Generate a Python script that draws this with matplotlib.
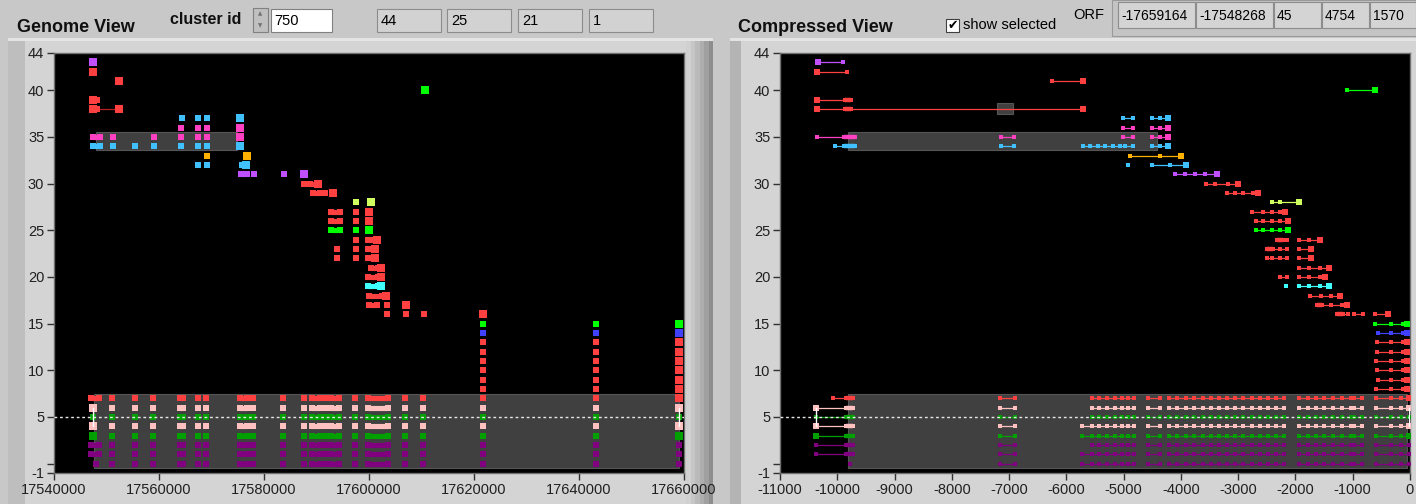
import matplotlib.pyplot as plt
from matplotlib.patches import Rectangle

plt.rcParams['axes.unicode_minus'] = False
FONT = ['Liberation Sans Narrow', 'Liberation Sans', 'DejaVu Sans']

W, H = 1416, 504

red = '#ff4040'
pink = '#ff40c0'
blue = '#40c0ff'
violet = '#c050ff'
orange = '#ffb000'
lime = '#d0ff60'
green = '#00ff00'
cyan = '#40ffff'
blue2 = '#4040ff'
lpink = '#ffc0c0'
dgreen = '#00a000'
purple = '#800080'

# ---------------- data ----------------
# transcript rows above the grey band (row index = y value)
top_rows = [43, 42, 41, 40, 39, 38, 37, 36, 35, 34, 33, 32, 31, 30, 29, 28, 27, 26,
            25, 24, 23, 22, 21, 20, 19, 18, 17, 16, 15, 14, 13, 12, 11, 10, 9, 8]
top_colors = [violet, red, red, green, red, red, blue, pink, pink, blue, orange, blue,
              violet, red, red, lime, red, red, green, red, red, red, red, red, cyan,
              red, red, red, green, blue2, red, red, red, red, red, red]

# genome view: exons (single position or (start, end)) and end exons
genome_exons = [
    [], [], [], [],
    [(17547370, 17548140)],
    [(17547370, 17548140)],
    [17564440, 17567490, 17569090],
    [17564190, 17567490, 17569090],
    [(17547370, 17548760), 17551300, 17559100, 17564190, 17567490, 17569090],
    [(17547370, 17548760), 17551300, 17555430, 17559100, 17564190, 17567490, 17569090],
    [17569090],
    [17567490, 17569090, (17575870, 17576580)],
    [(17575700, 17576700), 17578100, 17583815],
    [17587625, (17588770, 17590350)],
    [(17589280, 17590670), 17591625],
    [17597530],
    [(17592770, 17594480), 17597530],
    [(17592770, 17594480), 17597530],
    [(17592770, 17594480), 17597530],
    [17597530, (17599880, 17601000)],
    [17593970, 17597530, (17599880, 17600800)],
    [17593970, 17597530, (17599880, 17600800)],
    [(17600400, 17601800)],
    [(17599760, 17601800)],
    [(17599760, 17601800)],
    [(17600000, 17602500)],
    [(17600000, 17601600), 17603490],
    [17603490, 17607060, 17610430],
    [17621700, 17643200], [17621700, 17643200], [17621700, 17643200],
    [17621700, 17643200], [17621700, 17643200], [17621700, 17643200],
    [17621700, 17643200], [17621700, 17643200],
]
genome_big = [
    [17547370], [17547370], [17552380], [17610680], [17547370], [17547370, 17552380],
    [17575430], [17575430], [17575430], [17575430], [17576710], [17576580],
    [17587625], [17590350], [17593090], [17600330], [17600070], [17600070],
    [17600070], [17601530], [17601090], [17601090], [17602360], [17602360],
    [17602360], [17603310], [17607060], [17621700],
    [17659100], [17659100], [17659100], [17659100], [17659100], [17659100],
    [17659100], [17659100],
]
genome_link = (38, 17548140, 17552380)

# compressed view: groups of linked exons and end exons
comp_segs = [
    [[-10342, -9905]],
    [[-10359, -9835]],
    [[-6251, -5710]],
    [[-1100, -611]],
    [[-10359, (-9870, -9760)]],
    [[-10359, (-9870, -9760), -5710]],
    [[-5011, -4837], [-4505, -4365, -4225]],
    [[-5011, -4837], [-4505, -4365, -4225]],
    [[-10359, (-9883, -9690)], [-7141, -6914], [-5011, -4837], [-4505, -4365, -4225]],
    [[-10040, (-9883, -9690)], [-7141, -6914],
     [-5710, -5580, -5450, -5320, -5190, -5060, -4976, -4837], [-4505, -4365, -4225]],
    [[-4890, -4365, -3998]],
    [[-4924], [-4505, -4191, -3911]],
    [[-4103, -3929, -3754, -3580, -3370]],
    [[-3562, -3405, -3178, -3003]],
    [[-3195, -3056, -2916, -2741, -2654]],
    [[-2410, -2270, -1938]],
    [[-2759, -2567, -2410, -2270, -2183]],
    [[-2689, -2567, -2410, -2270, -2130]],
    [[-2689, -2567, -2410, -2270, -2130]],
    [[(-2322, -2218), -2148], [-1938, -1764, -1571]],
    [[(-2497, -2392), -2270, -2148], [-1938, -1729]],
    [[-2497, -2410, -2270, -2148], [-1938, -1729]],
    [[-1938, -1764, -1571, -1414]],
    [[-2270, -2148], [-1938, -1764, -1571, -1484]],
    [[-2165], [-1938, -1764, -1571, -1414]],
    [[-1746, -1554, -1380, -1222]],
    [[(-1624, -1536), -1380, -1187, -1100]],
    [[(-1275, -1170), -1083], [-978, -821], [-611, -385]],
    [[-611, -332, -122, -52]],
    [[-559, -332, -122, -52]],
    [[-580, -332, -122, -52]], [[-570, -332, -122, -52]], [[-590, -332, -122, -52]],
    [[-580, -332, -122, -52]], [[-560, -332, -122, -52]], [[-590, -332, -122, -52]],
]
comp_big = [
    [-10342], [-10359], [-5710], [-611], [-10359], [-10359, -5710],
    [-4225], [-4225], [-4225], [-4225], [-3998], [-3911],
    [-3370], [-3003], [-2654], [-1938], [-2183], [-2130],
    [-2130], [-1571], [-1729], [-1729], [-1414], [-1484],
    [-1414], [-1222], [-1100], [-385],
    [-52], [-52], [-52], [-52], [-52], [-52], [-52], [-52],
]

# rows inside the grey band
band_rows = [7, 6, 5, 4, 3, 2, 1, 0]
band_colors = [red, lpink, dgreen, lpink, dgreen, purple, purple, purple]
band_genome_first = [(17547016, 17548595), 17547455, 17547455, 17547455, 17547455,
                     (17547016, 17548595), (17547016, 17548595), 17548070]
band_genome_exons = [17550960, 17555520, 17558940, (17563940, 17564560), 17567360,
                     17568940, (17575520, 17576700), 17577890, 17583670, 17587530,
                     (17589110, 17590600), 17591570, (17592800, 17594370), 17597360,
                     (17599900, 17603580), 17606910, 17610250, 17621700, 17643200]
band_genome_last = 17659100
band_first_big = [False, True, False, True, True, False, False, False]
band_last_big = [True, True, False, True, True, False, False, False]

band_comp_first = [[-10066, (-9856, -9724)], [-10378, (-9856, -9724)],
                   [-10378, (-9856, -9724)], [-10378, (-9856, -9724)],
                   [-10378, (-9856, -9724)], [-10378, (-9856, -9724)],
                   [-10378, (-9856, -9724)], [-9779]]
band_comp_lead = [[-5554], [-5554], [-5554], [-5733, -5554], [-5733, -5554],
                  [-5554], [-5733, -5554], [-5733, -5554]]
band_comp_segs = [[-7157, -6900],
                  [-5422, -5289, -5157, -5025, -4932, -4823],
                  [-4566, -4371],
                  [-4216, -4060, -3905, -3765, -3617, -3477, -3337, -3189, -3049,
                   -2909, -2761, -2621, -2481, -2333, -2193],
                  [-1944, -1789, -1633, -1493, -1337, -1182, -1026],
                  [-972, -832],
                  [-599, -337, -163, -17]]
band_comp_last = -17
selected_row = 5

# selection boxes (x0, x1, y0, y1)
genome_boxes = [(17548000, 17574860, 33.6, 35.5), (17547700, 17659100, -0.5, 7.45)]
comp_boxes = [(-9815, -4420, 33.6, 35.5), (-7211, -6932, 37.5, 38.6),
              (-9818, -55, -0.5, 7.45)]

header_boxes = [('44', 377), ('25', 447), ('21', 518), ('1', 589)]
orf_boxes = [('-17659164', 1118, 1195), ('-17548268', 1196, 1273), ('45', 1274, 1321),
             ('4754', 1322, 1369), ('1570', 1370, 1416)]

# ---------------- drawing ----------------
def fx(x):
    return x / W


def fy(y):
    return 1 - y / H


def frect(fig, x0, y0, x1, y1, fc, ec='none', lw=0, z=-5):
    fig.patches.append(Rectangle((fx(x0), fy(y1)), (x1 - x0) / W, (y1 - y0) / H,
                                 transform=fig.transFigure, fc=fc, ec=ec, lw=lw,
                                 zorder=z))


def exon(ax, x, y, color, ms):
    if isinstance(x, tuple):
        ax.plot(x, [y, y], color=color, lw=ms, solid_capstyle='butt',
                marker='s', ms=ms, mew=0, zorder=3)
    else:
        ax.plot([x], [y], color=color, marker='s', ms=ms, mew=0, ls='none', zorder=3)


def linked(ax, group, y, color, ms):
    xs = []
    for e in group:
        xs += list(e) if isinstance(e, tuple) else [e]
    if len(xs) > 1:
        ax.plot([min(xs), max(xs)], [y, y], color=color, lw=0.9, zorder=2)
    for e in group:
        exon(ax, e, y, color, ms)


fig = plt.figure(figsize=(W / 100, H / 100), dpi=100, facecolor='#c8c8c8')

# panels
frect(fig, 8, 40, 713, 504, '#bebebe', z=-10)
frect(fig, 25, 40, 686, 504, '#d4d4d4', z=-9)
for i, c in enumerate(['#d0d0d0', '#c6c6c6', '#bababa', '#aeaeae', '#a0a0a0', '#8e8e8e']):
    frect(fig, 686 + i * 4.5, 40, 691 + i * 4.5, 504, c, z=-8)
frect(fig, 730, 40, 1416, 504, '#b4b4b4', z=-10)
frect(fig, 741, 40, 1416, 504, '#d4d4d4', z=-9)
frect(fig, 8, 38, 713, 41, '#e4e4e4', z=-8)
frect(fig, 730, 38, 1416, 41, '#e4e4e4', z=-8)

SMALL, BIG = 3.7, 5.4
CSMALL, CBIG = 3.2, 5.0
TICKSIZE = 10.5

axg = fig.add_axes([fx(54), fy(473), 630 / W, 420 / H], zorder=5)
axc = fig.add_axes([fx(780), fy(473), 630 / W, 420 / H], zorder=5)

for ax in (axg, axc):
    ax.set_facecolor('black')
    ax.set_ylim(-1, 44)
    ax.set_yticks([-1, 0, 5, 10, 15, 20, 25, 30, 35, 40, 44])
    ax.set_yticklabels(['-1', '', '5', '10', '15', '20', '25', '30', '35', '40', '44'],
                       family=FONT)
    ax.tick_params(direction='out', length=5, width=1, color='#303030', pad=2,
                   labelsize=TICKSIZE, labelcolor='#202020')
    for s in ax.spines.values():
        s.set_color('#707070')
        s.set_linewidth(1)

# genome view
axg.set_xlim(17540000, 17660000)
axg.set_xticks(range(17540000, 17660001, 20000))
axg.set_xticklabels([str(v) for v in range(17540000, 17660001, 20000)], family=FONT)
for x0, x1, y0, y1 in genome_boxes:
    axg.add_patch(Rectangle((x0, y0), x1 - x0, y1 - y0, fc='#404040', ec='#555555',
                            lw=0.8, zorder=1))
axg.plot([genome_link[1], genome_link[2]], [genome_link[0]] * 2, color='#b02020',
         lw=0.9, zorder=2)
for y, c, exs, bigs in zip(top_rows, top_colors, genome_exons, genome_big):
    for e in exs:
        exon(axg, e, y, c, SMALL)
    for b in bigs:
        exon(axg, b, y, c, BIG)
for i, (y, c) in enumerate(zip(band_rows, band_colors)):
    exon(axg, band_genome_first[i], y, c, BIG if band_first_big[i] else SMALL)
    for e in band_genome_exons:
        exon(axg, e, y, c, SMALL)
    exon(axg, band_genome_last, y, c, BIG if band_last_big[i] else SMALL)

# compressed view
axc.set_xlim(-11000, 0)
axc.set_xticks(range(-11000, 1, 1000))
axc.set_xticklabels([str(v) for v in range(-11000, 1, 1000)], family=FONT)
for x0, x1, y0, y1 in comp_boxes:
    axc.add_patch(Rectangle((x0, y0), x1 - x0, y1 - y0, fc='#404040', ec='#555555',
                            lw=0.8, zorder=1))
for y, c, segs, bigs in zip(top_rows, top_colors, comp_segs, comp_big):
    for g in segs:
        linked(axc, g, y, c, CSMALL)
    for b in bigs:
        exon(axc, b, y, c, CBIG)
for i, (y, c) in enumerate(zip(band_rows, band_colors)):
    linked(axc, band_comp_first[i], y, c, CSMALL)
    if band_first_big[i]:
        exon(axc, band_comp_first[i][0], y, c, CBIG)
    for j, g in enumerate(band_comp_segs):
        if j == 1:
            g = band_comp_lead[i] + g
        linked(axc, g, y, c, CSMALL)
    if band_last_big[i]:
        exon(axc, band_comp_last, y, c, CBIG)

# selected row marker
for ax, xa, xb in ((axg, band_genome_first[2], band_genome_last),
                   (axc, band_comp_first[2][0], band_comp_last)):
    ax.axhline(selected_row, color='#e8e8e8', lw=1, ls=(0, (2, 2)), zorder=4)
    for x in (xa, xb):
        ax.plot([x, x], [selected_row - 1, selected_row + 1], color='white', lw=1, zorder=5)

# header
fig.text(fx(17), fy(28), 'Genome View', family=FONT, weight='bold', fontsize=13,
         va='center', color='#101010')
fig.text(fx(738), fy(28), 'Compressed View', family=FONT, weight='bold', fontsize=13,
         va='center', color='#101010')
fig.text(fx(170), fy(19), 'cluster id', family=FONT, weight='bold', fontsize=11.5,
         va='center', color='#101010')
frect(fig, 253, 8, 268, 32, '#c0c0c0', '#808080', 0.8, 2)
fig.text(fx(260.5), fy(14), '\u25b2', fontsize=4, ha='center', va='center', color='#707070')
fig.text(fx(260.5), fy(26), '\u25bc', fontsize=4, ha='center', va='center', color='#707070')
frect(fig, 271, 9, 332, 32, 'white', '#808080', 0.8, 2)
fig.text(fx(274), fy(21), '750', family=FONT, fontsize=10.5, va='center')
for txt, x0 in header_boxes:
    frect(fig, x0, 9, x0 + 64, 32, '#d2d2d2', '#8c8c8c', 0.8, 2)
    fig.text(fx(x0 + 4), fy(21), txt, family=FONT, fontsize=10.5, va='center')

frect(fig, 946, 19, 959, 32, 'white', '#404040', 0.8, 2)
fig.text(fx(952.5), fy(25.5), '\u2714', fontsize=9, ha='center', va='center', color='black')
fig.text(fx(963), fy(25), 'show selected', family=FONT, fontsize=10.5, va='center')
fig.text(fx(1073), fy(15), 'ORF', family=FONT, fontsize=10.5, va='center')
frect(fig, 1112, 0, 1416, 36, '#c4c4c4', '#9a9a9a', 0.8, 1)
for txt, x0, x1 in orf_boxes:
    frect(fig, x0, 2, x1, 28, '#d4d4d4', '#8c8c8c', 0.8, 2)
    fig.text(fx(x0 + 3), fy(16), txt, family=FONT, fontsize=10, va='center')

fig.savefig('out.png', dpi=100, facecolor=fig.get_facecolor())
